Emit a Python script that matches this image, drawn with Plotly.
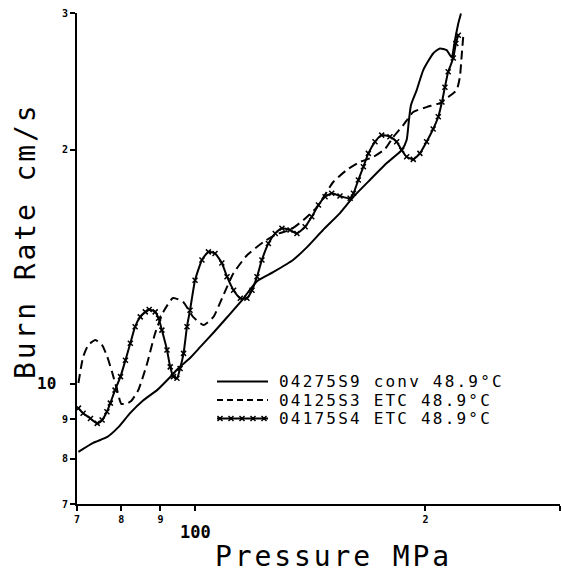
import plotly.graph_objects as go
import math

# ---- data (Pressure MPa, Burn rate cm/s) ----
p_conv = [70.3, 73.5, 76.7, 79.3, 82.2, 85.5, 89.1, 92.7, 95.0, 98.4, 101.5, 105.5, 110.4,
          115.1, 120.4, 126.4, 134.2, 140.0, 146.9, 154.6, 161.0, 169.2, 178.0, 186.2, 189.0,
          190.3, 191.5, 194.8, 198.7, 204.7, 208.9, 213.2, 216.4, 218.6, 220.8, 222.6]
r_conv = [8.17, 8.39, 8.54, 8.79, 9.17, 9.52, 9.81, 10.20, 10.47, 10.79, 11.15, 11.62, 12.22,
          12.81, 13.55, 13.92, 14.43, 14.99, 15.77, 16.58, 17.40, 18.29, 19.23, 19.98, 20.59,
          21.84, 22.84, 23.87, 25.33, 26.61, 27.01, 26.87, 26.32, 27.68, 29.08, 29.96]

p_etc3 = [70.3, 71.3, 72.4, 74.0, 75.5, 76.7, 77.8, 79.0, 80.0, 81.2, 82.4, 84.2, 86.5, 88.6,
          90.8, 93.5, 96.4, 99.3, 102.5, 105.6, 108.8, 112.2, 116.9, 122.8, 127.8, 133.0,
          138.5, 144.3, 151.5, 157.8, 164.2, 170.9, 177.1, 181.5, 187.1, 192.8, 200.7, 208.9,
          214.2, 219.7, 221.9, 223.0, 224.1]
r_etc3 = [10.02, 10.82, 11.21, 11.38, 11.21, 10.82, 10.35, 9.81, 9.42, 9.42, 9.50, 9.81, 10.63,
          11.62, 12.37, 12.89, 12.74, 12.19, 11.90, 12.19, 13.00, 13.88, 14.64, 15.22, 15.58,
          15.77, 16.24, 16.88, 18.18, 18.84, 19.29, 19.58, 20.05, 20.77, 21.52, 22.37, 22.70,
          22.97, 23.38, 23.87, 24.83, 26.32, 27.95]

p_etc4 = [70.3, 71.3, 72.9, 74.4, 75.5, 76.6, 77.4, 78.5, 79.8, 81.0, 82.2, 83.4, 84.7, 86.0,
          87.0, 88.6, 89.5, 90.4, 91.8, 92.7, 93.6, 94.6, 95.5, 96.5, 97.5, 98.4, 99.9, 102.0,
          104.0, 106.1, 108.3, 110.0, 112.2, 114.5, 116.8, 118.6, 120.4, 122.2, 124.6, 127.2,
          129.8, 133.0, 135.8, 139.2, 142.0, 144.9, 147.8, 150.8, 154.6, 159.4, 161.0, 163.4,
          165.9, 168.4, 171.8, 175.3, 179.7, 183.4, 186.2, 189.0, 192.8, 196.7, 200.7, 204.7,
          207.9, 210.2, 212.1, 214.2, 217.5, 219.2, 220.8]
r_etc4 = [9.30, 9.16, 9.02, 8.89, 8.98, 9.20, 9.44, 9.81, 10.21, 10.72, 11.27, 11.84, 12.19, 12.37,
          12.46, 12.37, 12.14, 11.72, 11.05, 10.51, 10.21, 10.16, 10.46, 10.94, 11.84, 12.43, 13.59,
          14.43, 14.78, 14.71, 14.30, 13.73, 13.19, 12.88, 12.88, 13.19, 13.73, 14.43, 15.15, 15.61,
          15.85, 15.77, 15.61, 15.92, 16.40, 16.98, 17.40, 17.58, 17.44, 17.32, 17.58, 18.29,
          19.02, 19.79, 20.48, 20.89, 20.79, 20.48, 19.98, 19.59, 19.44, 19.79, 20.48, 21.27,
          22.06, 23.04, 24.08, 25.20, 26.25, 27.41, 28.09]

series_names = ["04275S9 conv 48.9°C", "04125S3 ETC 48.9°C", "04175S4 ETC 48.9°C"]

x_tickvals = [70, 80, 90, 100, 200, 300]
x_ticktext = ["7", "8", "9", "", "2", "3"]
y_tickvals = [7, 8, 9, 10, 20, 30]
y_ticktext = ["7", "8", "9", "", "2", "3"]

MONO = "DejaVu Sans Mono"

fig = go.Figure()
fig.add_trace(go.Scatter(x=p_conv, y=r_conv, mode="lines", name=series_names[0],
                         line=dict(color="black", width=2, shape="spline", smoothing=0.5)))
fig.add_trace(go.Scatter(x=p_etc3, y=r_etc3, mode="lines", name=series_names[1],
                         line=dict(color="black", width=2, dash="9px,5px", shape="spline", smoothing=0.5)))
fig.add_trace(go.Scatter(x=p_etc4, y=r_etc4, mode="lines+markers", name=series_names[2],
                         line=dict(color="black", width=2, shape="spline", smoothing=0.5),
                         marker=dict(symbol="x-thin", size=5, color="black",
                                     line=dict(color="black", width=1.5))))

W, H = 562, 574
L, R, T, B = 77, 2, 13, 70
pw, ph = W - L - R, H - T - B


def px2paper(px, py):
    return (px - L) / pw, (H - B - py) / ph


def spaced(text, ls):
    return f'<span style="letter-spacing:{ls}px">{text}</span>'


annotations = []
# custom legend
rows_y = [381.5, 400, 418.5]
x0, _ = px2paper(217, 0)
x1, _ = px2paper(268, 0)
xt, _ = px2paper(277, 0)
shapes = []
dashes = ["solid", "6px,4px", "solid"]
for i, name in enumerate(series_names):
    _, yp = px2paper(0, rows_y[i])
    shapes.append(dict(type="line", xref="paper", yref="paper", x0=x0, x1=x1, y0=yp, y1=yp,
                       line=dict(color="black", width=2, dash=dashes[i])))
    annotations.append(dict(text=spaced(name, 2.2), xref="paper", yref="paper", x=xt, y=yp,
                            xanchor="left", yanchor="middle", showarrow=False,
                            font=dict(family=MONO, size=16, color="black")))
# x markers on the third legend sample
path = ""
for mx in [220, 231, 242, 253, 264]:
    a, b = px2paper(mx - 2.5, rows_y[2] - 2.5)
    c, d = px2paper(mx + 2.5, rows_y[2] + 2.5)
    path += f"M{a},{b} L{c},{d} M{a},{d} L{c},{b} "
shapes.append(dict(type="path", xref="paper", yref="paper", path=path,
                   line=dict(color="black", width=1.5)))

# larger decade labels
annotations.append(dict(text="100", xref="x", yref="paper", x=math.log10(100), y=px2paper(0, 532)[1],
                        xanchor="center", yanchor="middle", showarrow=False,
                        font=dict(family=MONO, size=17, color="black", weight="bold")))
annotations.append(dict(text="10", xref="paper", yref="y", x=px2paper(58, 0)[0], y=math.log10(10),
                        xanchor="right", yanchor="middle", showarrow=False,
                        font=dict(family=MONO, size=16, color="black", weight="bold")))
# axis titles
tx, ty = px2paper(333, 556)
annotations.append(dict(text=spaced("Pressure MPa", 2.9), xref="paper", yref="paper", x=tx, y=ty,
                        xanchor="center", yanchor="middle", showarrow=False,
                        font=dict(family=MONO, size=28, color="black")))
tx, ty = px2paper(25, 241)
annotations.append(dict(text=spaced("Burn Rate cm/s", 2.9), xref="paper", yref="paper", x=tx, y=ty,
                        xanchor="center", yanchor="middle", showarrow=False, textangle=-90,
                        font=dict(family=MONO, size=28, color="black")))

axis_common = dict(type="log", showgrid=False, zeroline=False, showline=True, linecolor="black",
                   linewidth=2, ticks="outside", ticklen=5, tickwidth=1.5, tickcolor="black",
                   tickfont=dict(family=MONO, size=10, color="black", weight="bold"),
                   mirror=False, automargin=False)

fig.update_layout(
    width=W, height=H,
    margin=dict(l=L, r=R, t=T, b=B, pad=0),
    paper_bgcolor="white", plot_bgcolor="white",
    showlegend=False,
    xaxis=dict(range=[math.log10(70), math.log10(300)], tickvals=x_tickvals, ticktext=x_ticktext,
               **axis_common),
    yaxis=dict(range=[math.log10(7), math.log10(30)], tickvals=y_tickvals, ticktext=y_ticktext,
               **axis_common),
    annotations=annotations,
    shapes=shapes,
)

fig.write_html(
    "out.html",
    config={"displayModeBar": False},
    post_script="document.body.style.margin='0';document.body.style.padding='0';"
                "document.body.style.overflow='hidden';",
)
